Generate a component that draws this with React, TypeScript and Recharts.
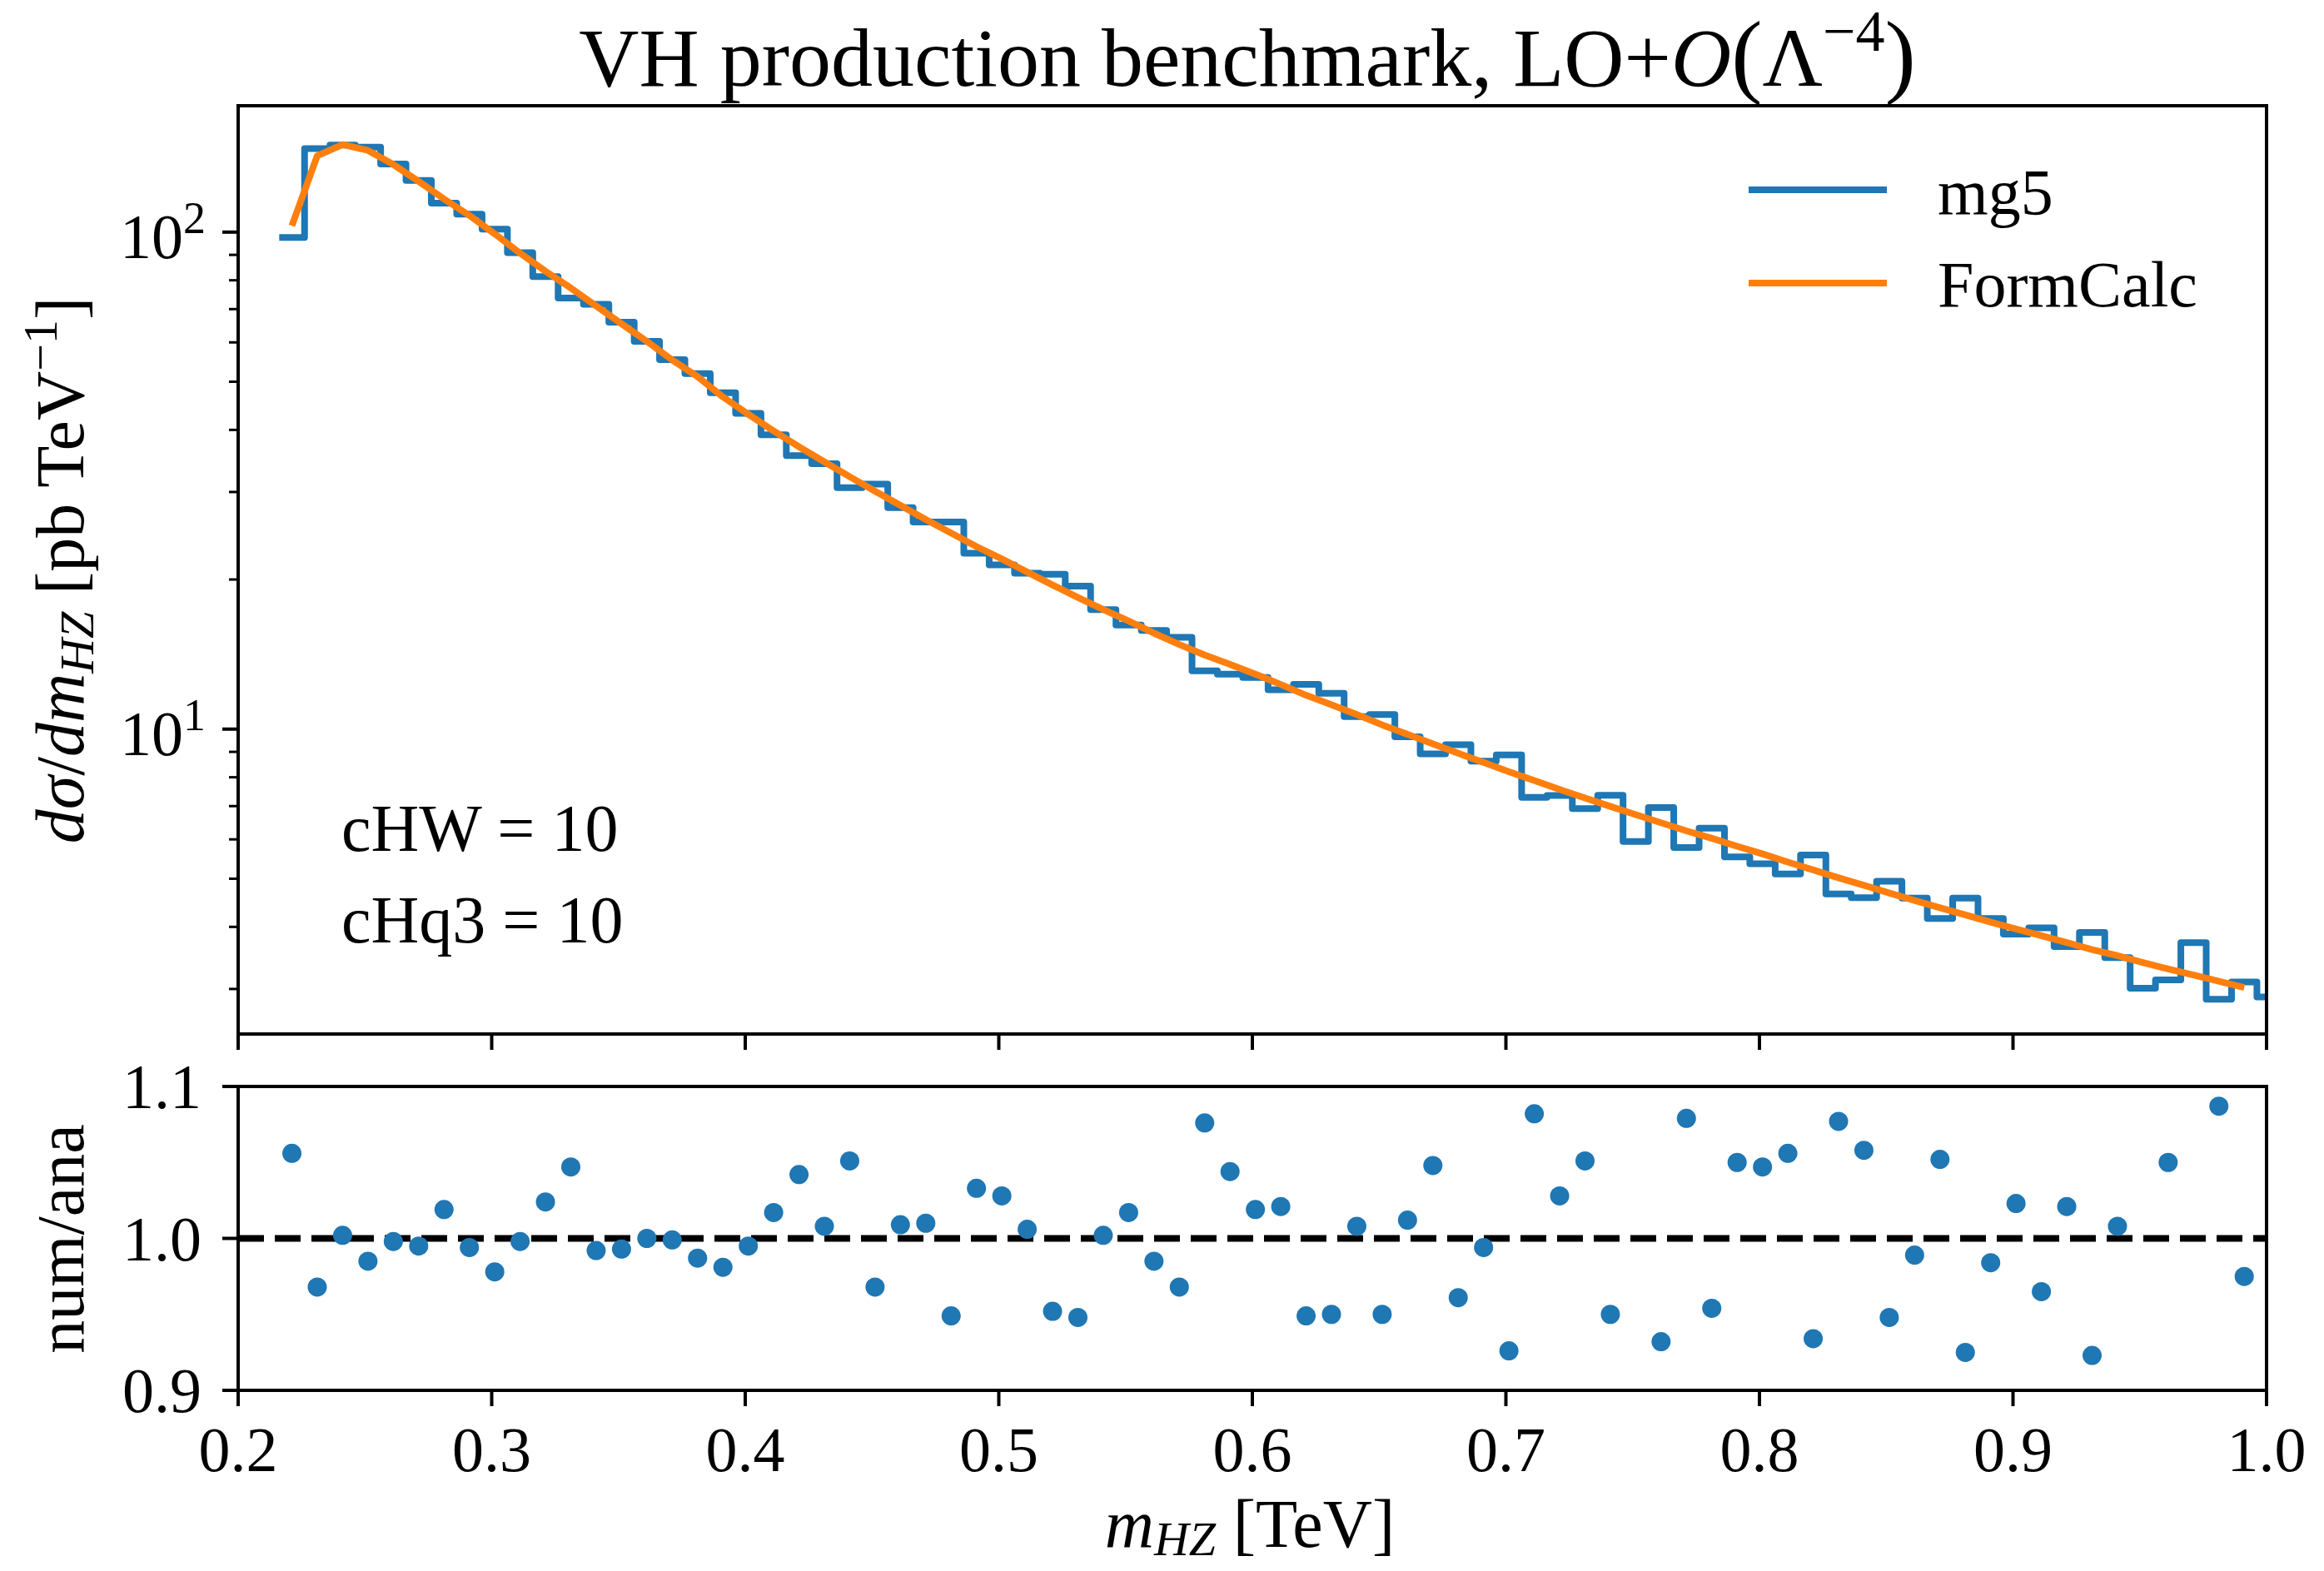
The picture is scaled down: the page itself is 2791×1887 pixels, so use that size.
import React from "react";
import { ComposedChart, Line, Scatter, XAxis, YAxis, ReferenceLine } from "recharts";

const FONT = '"Liberation Serif", "DejaVu Serif", serif';
const BLUE = "#1f77b4";
const ORANGE = "#ff7f0e";

// histogram bin edges in m_HZ [TeV] (threshold mH + mZ, 10 GeV bins)
const binEdges = [
    0.2162, 0.2262, 0.2362, 0.2462, 0.2562, 0.2662, 0.2762, 0.2862, 0.2962, 0.3062,
    0.3162, 0.3262, 0.3362, 0.3462, 0.3562, 0.3662, 0.3762, 0.3862, 0.3962, 0.4062,
    0.4162, 0.4262, 0.4362, 0.4462, 0.4562, 0.4662, 0.4762, 0.4862, 0.4962, 0.5062,
    0.5162, 0.5262, 0.5362, 0.5462, 0.5562, 0.5662, 0.5762, 0.5862, 0.5962, 0.6062,
    0.6162, 0.6262, 0.6362, 0.6462, 0.6562, 0.6662, 0.6762, 0.6862, 0.6962, 0.7062,
    0.7162, 0.7262, 0.7362, 0.7462, 0.7562, 0.7662, 0.7762, 0.7862, 0.7962, 0.8062,
    0.8162, 0.8262, 0.8362, 0.8462, 0.8562, 0.8662, 0.8762, 0.8862, 0.8962, 0.9062,
    0.9162, 0.9262, 0.9362, 0.9462, 0.9562, 0.9662, 0.9762, 0.9862, 0.9962, 1.0062,
];

// mg5 histogram, one value per bin
const mg5Values = [
    97.5, 147.2, 149.7, 148.2, 137.1, 127.1, 114.4, 108.7, 101.4, 90.9,
    81.4, 73.7, 71.6, 65.9, 60.3, 55.4, 51.9, 47.5, 43.2, 39.1,
    35.5, 34.2, 30.6, 31.1, 27.9, 26.1, 26.1, 22.6, 21.4, 20.6,
    20.5, 19.4, 17.4, 16.2, 15.8, 15.3, 13.1, 12.9, 12.7, 12.0,
    12.3, 11.8, 10.6, 10.7, 9.65, 8.92, 9.3, 8.62, 8.87, 7.29,
    7.35, 6.92, 7.36, 5.94, 6.95, 5.78, 6.32, 5.53, 5.36, 5.11,
    5.58, 4.66, 4.58, 4.94, 4.57, 4.16, 4.57, 4.16, 3.87, 3.98,
    3.65, 3.9, 3.47, 3.01, 3.13, 3.72, 2.86, 3.1, 2.89,
];

// FormCalc, evaluated at bin centres
const formCalcValues = [
    103, 142.4, 150, 146, 136.8, 126.5, 116.6, 108, 99.2, 90.7,
    83.4, 77.2, 71.0, 65.4, 60.3, 55.3, 51.2, 46.6, 43.0, 39.8,
    37.0, 34.5, 32.2, 30.1, 28.2, 26.4, 24.8, 23.3, 22.0, 20.7,
    19.5, 18.4, 17.4, 16.5, 15.6, 14.8, 14.1, 13.5, 12.9, 12.3,
    11.7, 11.2, 10.7, 10.2, 9.76, 9.34, 8.94, 8.57, 8.21, 7.88,
    7.56, 7.27, 6.99, 6.73, 6.48, 6.24, 6.03, 5.81, 5.61, 5.4,
    5.21, 5.02, 4.85, 4.68, 4.52, 4.37, 4.23, 4.09, 3.96, 3.84,
    3.72, 3.6, 3.5, 3.39, 3.29, 3.2, 3.11, 3.02,
];

// ratio panel, one point per bin centre
const ratioValues = [
    1.056, 0.968, 1.002, 0.985, 0.998, 0.995, 1.019, 0.994, 0.978, 0.998,
    1.024, 1.047, 0.992, 0.993, 1.0, 0.999, 0.987, 0.981, 0.995, 1.017,
    1.042, 1.008, 1.051, 0.968, 1.009, 1.01, 0.949, 1.033, 1.028, 1.006,
    0.952, 0.948, 1.002, 1.017, 0.985, 0.968, 1.076, 1.044, 1.019, 1.021,
    0.949, 0.95, 1.008, 0.95, 1.012, 1.048, 0.961, 0.994, 0.926, 1.082,
    1.028, 1.051, 0.95, 1.133, 0.932, 1.079, 0.954, 1.05, 1.047, 1.056,
    0.934, 1.077, 1.058, 0.948, 0.989, 1.052, 0.925, 0.984, 1.023, 0.965,
    1.021, 0.923, 1.008, 1.128, 1.05, 0.86, 1.087, 0.975,
];

const xTicks = [0.2, 0.3, 0.4, 0.5, 0.6, 0.7, 0.8, 0.9, 1.0];
const xTickLabels = ["0.2", "0.3", "0.4", "0.5", "0.6", "0.7", "0.8", "0.9", "1.0"];
const logMajorTicks = [10, 100];
const logMajorLabels = ["1", "2"];
const logMinorTicks = [3, 4, 5, 6, 7, 8, 9, 20, 30, 40, 50, 60, 70, 80, 90];
const ratioTicks = [0.9, 1.0, 1.1];
const ratioTickLabels = ["0.9", "1.0", "1.1"];

// step line: one point per lower edge, last value repeated at the final edge
const mg5Data = binEdges.map((x, i) => ({ x, y: mg5Values[Math.min(i, mg5Values.length - 1)] }));
const centres = formCalcValues.map((_, i) => (binEdges[i] + binEdges[i + 1]) / 2);
const formCalcData = centres.map((x, i) => ({ x, y: formCalcValues[i] }));
const ratioData = centres
    .map((x, i) => ({ x, y: ratioValues[i] }))
    .filter((p) => p.y >= 0.9 && p.y <= 1.1);

const W = 2791;
const H = 1887;
const PLOT_LEFT = 286;
const PLOT_RIGHT = 2722;
const TOP_H = 1270;
const TOP_PLOT_Y = 127;
const TOP_AXIS_Y = 1242;
// lower panel svg starts a little above its plot so the "1.1" label has room
const BOT_TOP = 1240;
const BOT_H = H - BOT_TOP;
const BOT_PLOT_Y = 65;
const BOT_AXIS_Y = 430;
const MARGIN = { top: TOP_PLOT_Y, right: W - PLOT_RIGHT, bottom: 0, left: 86 };
const BOT_MARGIN = { top: BOT_PLOT_Y, right: W - PLOT_RIGHT, bottom: 0, left: 86 };

const makeXTick = (axisY: number, withLabel: boolean) => (props: any) => {
    const { x, payload, index } = props;
    return (
        <g>
            <line x1={x} x2={x} y1={axisY} y2={axisY + 19} stroke="#000" strokeWidth={4} />
            {withLabel && (
                <text x={x} y={axisY + 97} textAnchor="middle" fontFamily={FONT} fontSize={76} fill="#000">
                    {xTickLabels[index] ?? String(payload.value)}
                </text>
            )}
        </g>
    );
};

const LogYTick = (props: any) => {
    const { y, payload } = props;
    const mi = logMajorTicks.indexOf(payload.value);
    const major = mi >= 0;
    const len = major ? 19 : 11;
    return (
        <g>
            <line x1={PLOT_LEFT - len} x2={PLOT_LEFT} y1={y} y2={y} stroke="#000" strokeWidth={major ? 4 : 3} />
            {major && (
                <text y={y + 31} fontFamily={FONT} fill="#000">
                    <tspan x={144} fontSize={76}>10</tspan>
                    <tspan fontSize={54} dy={-30}>{logMajorLabels[mi]}</tspan>
                </text>
            )}
        </g>
    );
};

const RatioYTick = (props: any) => {
    const { y, index } = props;
    return (
        <g>
            <line x1={PLOT_LEFT - 19} x2={PLOT_LEFT} y1={y} y2={y} stroke="#000" strokeWidth={4} />
            <text x={242} y={y + 26} textAnchor="end" fontFamily={FONT} fontSize={76} fill="#000">
                {ratioTickLabels[index]}
            </text>
        </g>
    );
};

const Dot = (props: any) => <circle cx={props.cx} cy={props.cy} r={11.5} fill={BLUE} />;

// matplotlib-style box around a plot area
const Frame = ({ top, height }: { top: number; height: number }) => (
    <rect x={PLOT_LEFT} y={top} width={PLOT_RIGHT - PLOT_LEFT} height={height} fill="none" stroke="#000" strokeWidth={4} />
);

const App: React.FC = () => {
    return (
        <div style={{ position: "absolute", left: 0, top: 0, width: W, height: H, background: "#fff" }}>
            <div style={{ position: "absolute", left: 0, top: 0 }}>
                <ComposedChart width={W} height={TOP_H} margin={MARGIN}>
                    <XAxis
                        dataKey="x"
                        type="number"
                        domain={[0.2, 1.0]}
                        allowDataOverflow
                        ticks={xTicks}
                        interval={0}
                        height={TOP_H - TOP_AXIS_Y}
                        tickLine={false}
                        axisLine={false}
                        tick={makeXTick(TOP_AXIS_Y, false)}
                    />
                    <YAxis
                        type="number"
                        scale="log"
                        domain={[2.435, 179.6]}
                        allowDataOverflow
                        ticks={[...logMinorTicks, ...logMajorTicks]}
                        interval={0}
                        width={200}
                        tickLine={false}
                        axisLine={false}
                        tick={LogYTick}
                    />
                    <Line
                        data={mg5Data}
                        dataKey="y"
                        type="stepAfter"
                        stroke={BLUE}
                        strokeWidth={8}
                        strokeLinejoin="round"
                        dot={false}
                        isAnimationActive={false}
                    />
                    <Line
                        data={formCalcData}
                        dataKey="y"
                        type="linear"
                        stroke={ORANGE}
                        strokeWidth={8}
                        strokeLinejoin="round"
                        dot={false}
                        isAnimationActive={false}
                    />
                </ComposedChart>
            </div>
            <div style={{ position: "absolute", left: 0, top: BOT_TOP }}>
                <ComposedChart width={W} height={BOT_H} margin={BOT_MARGIN}>
                    <XAxis
                        dataKey="x"
                        type="number"
                        domain={[0.2, 1.0]}
                        allowDataOverflow
                        ticks={xTicks}
                        interval={0}
                        height={BOT_H - BOT_AXIS_Y}
                        tickLine={false}
                        axisLine={false}
                        tick={makeXTick(BOT_AXIS_Y, true)}
                    />
                    <YAxis
                        dataKey="y"
                        type="number"
                        domain={[0.9, 1.1]}
                        allowDataOverflow
                        ticks={ratioTicks}
                        interval={0}
                        width={200}
                        tickLine={false}
                        axisLine={false}
                        tick={RatioYTick}
                    />
                    <ReferenceLine y={1} stroke="#000" strokeWidth={8} strokeDasharray="31 13" />
                    <Scatter data={ratioData} dataKey="y" shape={<Dot />} isAnimationActive={false} />
                </ComposedChart>
            </div>
            <svg width={W} height={H} style={{ position: "absolute", left: 0, top: 0, pointerEvents: "none" }} fontFamily={FONT} fill="#000">
                <Frame top={TOP_PLOT_Y} height={TOP_AXIS_Y - TOP_PLOT_Y} />
                <Frame top={BOT_TOP + BOT_PLOT_Y} height={BOT_AXIS_Y - BOT_PLOT_Y} />

                <text x={1498} y={103} textAnchor="middle" fontSize={100}>
                    VH production benchmark, LO+<tspan fontStyle="italic">O</tspan>
                    <tspan fontSize={112}>(</tspan>Λ<tspan fontSize={70} dy={-42}>−4</tspan>
                    <tspan fontSize={112} dy={42}>)</tspan>
                </text>

                <text transform="translate(100,685) rotate(-90)" textAnchor="middle" fontSize={82}>
                    <tspan fontStyle="italic">dσ</tspan>/<tspan fontStyle="italic">dm</tspan>
                    <tspan fontStyle="italic" fontSize={58} dy={12}>HZ</tspan>
                    <tspan dy={-12}> [pb TeV</tspan>
                    <tspan fontSize={58} dy={-32}>−1</tspan>
                    <tspan dy={32}>]</tspan>
                </text>
                <text transform="translate(100,1488) rotate(-90)" textAnchor="middle" fontSize={80}>
                    num/ana
                </text>
                <text x={1501} y={1858} textAnchor="middle" fontSize={82}>
                    <tspan fontStyle="italic">m</tspan>
                    <tspan fontStyle="italic" fontSize={58} dy={10}>HZ</tspan>
                    <tspan dy={-10}> [TeV]</tspan>
                </text>

                <line x1={2100} x2={2266} y1={228} y2={228} stroke={BLUE} strokeWidth={8} />
                <text x={2327} y={257} fontSize={78}>mg5</text>
                <line x1={2100} x2={2266} y1={340} y2={340} stroke={ORANGE} strokeWidth={8} />
                <text x={2327} y={368} fontSize={78}>FormCalc</text>

                <text x={410} y={1022} fontSize={80}>cHW = 10</text>
                <text x={410} y={1132} fontSize={80}>cHq3 = 10</text>
            </svg>
        </div>
    );
};

export default App;
